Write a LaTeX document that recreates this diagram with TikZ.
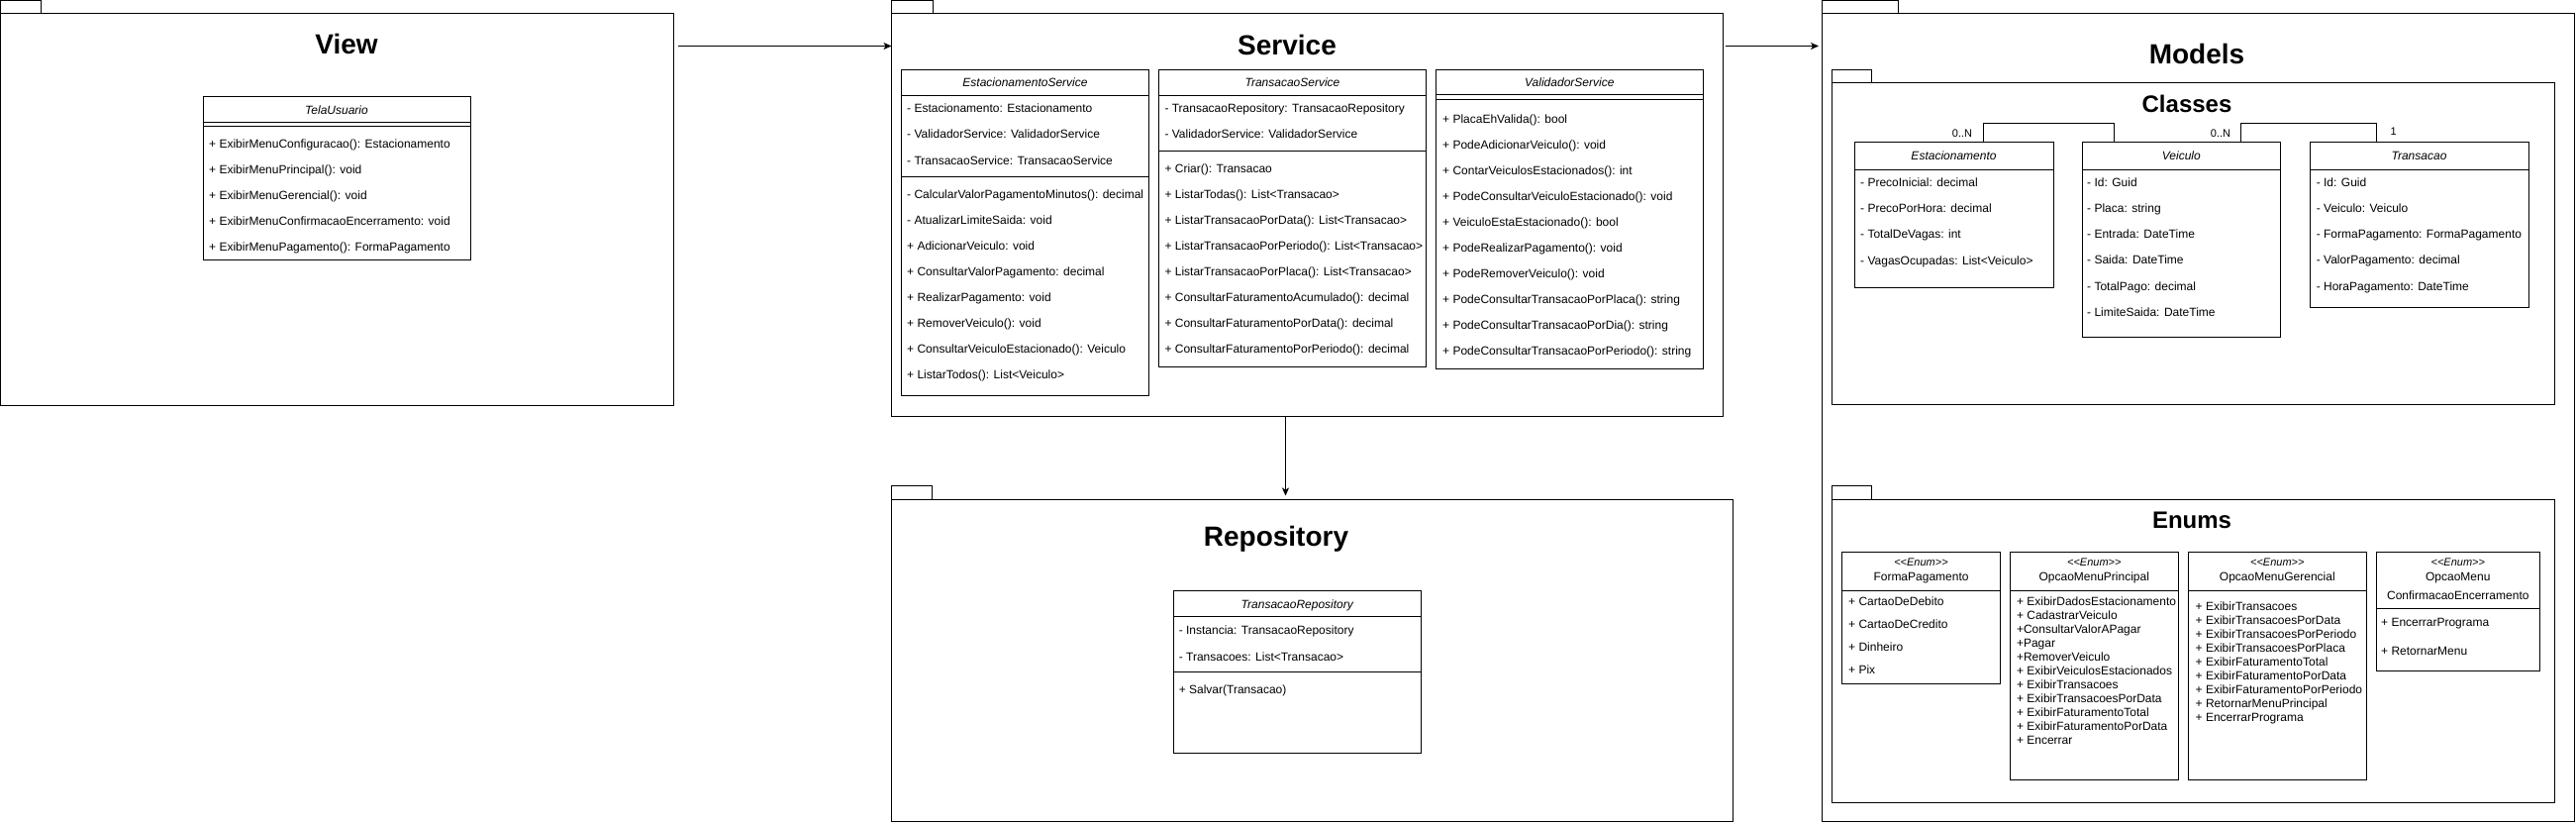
\documentclass[tikz,border=0pt]{standalone}
\usepackage{fontspec}
\setmainfont{Liberation Sans}
\usetikzlibrary{arrows.meta}
\newcommand{\bodyfont}{\fontsize{12}{14.4}\selectfont}
\newcommand{\sepline}[2]{\draw[sepl] (#1.west |- 0,#2) -- (#1.east |- 0,#2);}
\newcommand{\rowlist}[5]{\foreach \itm [count=\i from 0] in {#5} {\node[rowtxt] (#1-\i) at (#2, #3+4.3+#4*\i) {\itm};}}
\newcommand{\enumst}{<\kern0pt<Enum>\kern0pt>}
\tikzset{
  boxn/.style={draw, line width=1pt, inner sep=0pt, outer sep=0pt, anchor=north west},
  sepl/.style={line width=1pt},
  rowtxt/.style={anchor=base west, inner sep=0pt, font=\bodyfont},
  hdr/.style={anchor=base, inner sep=0pt, font=\bodyfont\itshape},
  enm/.style={anchor=base, inner sep=0pt, font=\bodyfont},
  stereo/.style={anchor=base, inner sep=0pt, font=\fontsize{11}{13}\selectfont\itshape},
  ttl/.style={anchor=base, inner sep=0pt, font=\fontsize{28}{32}\selectfont\bfseries},
  subttl/.style={anchor=base, inner sep=0pt, font=\fontsize{24}{28}\selectfont\bfseries},
  mult/.style={anchor=base, inner sep=0pt, font=\fontsize{11}{13}\selectfont},
  arr/.style={line width=1pt, -{Stealth[length=8pt,width=7pt,inset=2pt]}},
  conn/.style={line width=1pt},
}
\begin{document}
\begin{tikzpicture}[x=1pt,y=-1pt]
\useasboundingbox (0,0) rectangle (2602,832);
% ---------- View ----------
\node[boxn, minimum width=41pt, minimum height=13.5pt] (viewtab) at (0.5,0.5) {};
\node[boxn, minimum width=680pt, minimum height=395.5pt] (view) at (0.5,14) {};
\node[ttl] (viewT) at (350,55) {View};
\node[boxn, minimum width=270pt, minimum height=164pt] (tela) at (205,98) {};
\sepline{tela}{124}\sepline{tela}{128}
\node[hdr] (tela-h) at (340,115.3) {TelaUsuario};
\rowlist{tela}{211}{145.5}{26}{+ ExibirMenuConfiguracao(): Estacionamento, + ExibirMenuPrincipal(): void, + ExibirMenuGerencial(): void, + ExibirMenuConfirmacaoEncerramento: void, + ExibirMenuPagamento(): FormaPagamento}
% ---------- Service ----------
\node[boxn, minimum width=42pt, minimum height=13.5pt] (servtab) at (900.5,0.5) {};
\node[boxn, minimum width=840pt, minimum height=406.5pt] (serv) at (900.5,14) {};
\node[ttl] (servT) at (1300,56) {Service};
\node[boxn, minimum width=250pt, minimum height=328.5pt] (es) at (910.5,70.5) {};
\sepline{es}{96.7}\sepline{es}{178.5}
\node[hdr] (es-h) at (1035.5,87.9) {EstacionamentoService};
\rowlist{esa}{916}{109.7}{26}{- Estacionamento: Estacionamento, - ValidadorService: ValidadorService, - TransacaoService: TransacaoService}
\rowlist{esm}{916}{195.7}{26}{- CalcularValorPagamentoMinutos(): decimal, - AtualizarLimiteSaida: void, + AdicionarVeiculo: void, + ConsultarValorPagamento: decimal, + RealizarPagamento: void, + RemoverVeiculo(): void, + ConsultarVeiculoEstacionado(): Veiculo, + ListarTodos(): List<Veiculo>}
\node[boxn, minimum width=270pt, minimum height=299.5pt] (ts) at (1170.5,70.5) {};
\sepline{ts}{96.7}\sepline{ts}{152.7}
\node[hdr] (ts-h) at (1305.5,87.9) {TransacaoService};
\rowlist{tsa}{1176.3}{109.7}{26}{- TransacaoRepository: TransacaoRepository, - ValidadorService: ValidadorService}
\rowlist{tsm}{1176.3}{170}{26}{+ Criar(): Transacao, + ListarTodas(): List<Transacao>, + ListarTransacaoPorData(): List<Transacao>, + ListarTransacaoPorPeriodo(): List<Transacao>, + ListarTransacaoPorPlaca(): List<Transacao>, + ConsultarFaturamentoAcumulado(): decimal, + ConsultarFaturamentoPorData(): decimal, + ConsultarFaturamentoPorPeriodo(): decimal}
\node[boxn, minimum width=269.3pt, minimum height=301.5pt] (vs) at (1450.7,70.5) {};
\sepline{vs}{95.5}\sepline{vs}{100.5}
\node[hdr] (vs-h) at (1585.3,87.3) {ValidadorService};
\rowlist{vsm}{1457}{120}{26}{+ PlacaEhValida(): bool, + PodeAdicionarVeiculo(): void, + ContarVeiculosEstacionados(): int, + PodeConsultarVeiculoEstacionado(): void, + VeiculoEstaEstacionado(): bool, + PodeRealizarPagamento(): void, + PodeRemoverVeiculo(): void, + PodeConsultarTransacaoPorPlaca(): string, + PodeConsultarTransacaoPorDia(): string, + PodeConsultarTransacaoPorPeriodo(): string}
% ---------- Repository ----------
\node[boxn, minimum width=40.5pt, minimum height=13.5pt] (repotab) at (900.5,490.5) {};
\node[boxn, minimum width=849.5pt, minimum height=325.5pt] (repo) at (900.5,504) {};
\node[ttl] (repoT) at (1289,551.7) {Repository};
\node[boxn, minimum width=250.7pt, minimum height=163.3pt] (tr) at (1185,596.7) {};
\sepline{tr}{622.7}\sepline{tr}{678.7}
\node[hdr] (tr-h) at (1310.3,614) {TransacaoRepository};
\rowlist{tra}{1190.6}{635.7}{27}{- Instancia: TransacaoRepository, - Transacoes: List<Transacao>}
\rowlist{trm}{1190.6}{696}{26}{+ Salvar(Transacao)}
% ---------- Models ----------
\node[boxn, minimum width=76.5pt, minimum height=13.5pt] (modtab) at (1840.5,0.5) {};
\node[boxn, minimum width=760pt, minimum height=815.5pt] (mod) at (1840.5,14) {};
\node[ttl] (modT) at (2219,65) {Models};
% Classes
\node[boxn, minimum width=40pt, minimum height=13.3pt] (clstab) at (1850.7,70.7) {};
\node[boxn, minimum width=729.3pt, minimum height=324pt] (cls) at (1850.7,84) {};
\node[subttl] (clsT) at (2209,113.6) {Classes};
\node[boxn, minimum width=201pt, minimum height=146pt] (est) at (1873,144) {};
\sepline{est}{171}
\node[hdr] (est-h) at (1973.5,161.8) {Estacionamento};
\rowlist{esta}{1879}{184}{26.3}{- PrecoInicial: decimal, - PrecoPorHora: decimal, - TotalDeVagas: int, - VagasOcupadas: List<Veiculo>}
\node[boxn, minimum width=200.5pt, minimum height=196pt] (veic) at (2103,144) {};
\sepline{veic}{171}
\node[hdr] (veic-h) at (2203.3,161.8) {Veiculo};
\rowlist{veia}{2108}{184}{26.2}{- Id: Guid, - Placa: string, - Entrada: DateTime, - Saida: DateTime, - TotalPago: decimal, - LimiteSaida: DateTime}
\node[boxn, minimum width=221pt, minimum height=166pt] (trans) at (2333,144) {};
\sepline{trans}{171}
\node[hdr] (trans-h) at (2443.5,161.8) {Transacao};
\rowlist{tra2}{2339.6}{184}{26.2}{- Id: Guid, - Veiculo: Veiculo, - FormaPagamento: FormaPagamento, - ValorPagamento: decimal, - HoraPagamento: DateTime}
\coordinate (c1) at (2003.3,125);
\coordinate (c2) at (2135.7,125);
\coordinate (c3) at (2263.3,125);
\coordinate (c4) at (2400.7,125);
\draw[conn] (c1 |- est.north) -- (c1) -- (c2) -- (c2 |- veic.north);
\draw[conn] (c3 |- veic.north) -- (c3) -- (c4) -- (c4 |- trans.north);
\node[mult] (m1) at (1982,139) {0..N};
\node[mult] (m2) at (2243,139) {0..N};
\node[mult] (m3) at (2417.7,137) {1};
% Enums
\node[boxn, minimum width=40pt, minimum height=13.3pt] (enmtab) at (1850.7,490.7) {};
\node[boxn, minimum width=729.3pt, minimum height=306pt] (enms) at (1850.7,504) {};
\node[subttl] (enmT) at (2214,533.6) {Enums};
\node[boxn, minimum width=160pt, minimum height=132.3pt] (fp) at (1860.5,557.7) {};
\sepline{fp}{596}
\node[stereo] (fp-s) at (1940.5,571) {\enumst};
\node[enm] (fp-n) at (1940.5,586.3) {FormaPagamento};
\rowlist{fpi}{1867}{607}{22.9}{+ CartaoDeDebito, + CartaoDeCredito, + Dinheiro, + Pix}
\node[boxn, minimum width=169.5pt, minimum height=229.3pt] (omp) at (2030.5,557.7) {};
\sepline{omp}{596}
\node[stereo] (omp-s) at (2115.3,571) {\enumst};
\node[enm] (omp-n) at (2115.3,586.3) {OpcaoMenuPrincipal};
\rowlist{ompi}{2036.8}{606.7}{14}{+ ExibirDadosEstacionamento, + CadastrarVeiculo, +ConsultarValorAPagar, +Pagar, +RemoverVeiculo, + ExibirVeiculosEstacionados, + ExibirTransacoes, + ExibirTransacoesPorData, + ExibirFaturamentoTotal, + ExibirFaturamentoPorData, + Encerrar}
\node[boxn, minimum width=179.4pt, minimum height=229.3pt] (omg) at (2210.6,557.7) {};
\sepline{omg}{596}
\node[stereo] (omg-s) at (2300.3,571) {\enumst};
\node[enm] (omg-n) at (2300.3,586.3) {OpcaoMenuGerencial};
\rowlist{omgi}{2217.5}{611.7}{14}{+ ExibirTransacoes, + ExibirTransacoesPorData, + ExibirTransacoesPorPeriodo, + ExibirTransacoesPorPlaca, + ExibirFaturamentoTotal, + ExibirFaturamentoPorData, + ExibirFaturamentoPorPeriodo, + RetornarMenuPrincipal, + EncerrarPrograma}
\node[boxn, minimum width=164.3pt, minimum height=119.3pt] (omc) at (2400.7,557.7) {};
\sepline{omc}{614}
\node[stereo] (omc-s) at (2482.8,571) {\enumst};
\node[enm] (omc-n) at (2482.8,586.3) {OpcaoMenu};
\node[enm] (omc-n2) at (2482.8,605) {ConfirmacaoEncerramento};
\rowlist{omci}{2405}{627.7}{29}{+ EncerrarPrograma, + RetornarMenu}
% ---------- arrows ----------
\coordinate (y1) at (0,46.5);
\draw[arr, shorten <=4.5pt] (view.east |- y1) -- (serv.west |- y1);
\draw[arr, shorten <=2pt, shorten >=3.5pt] (serv.east |- y1) -- (mod.west |- y1);
\coordinate (x1) at (1298.5,0);
\draw[arr, shorten >=3.5pt] (x1 |- serv.south) -- (x1 |- repo.north);
\end{tikzpicture}
\end{document}
